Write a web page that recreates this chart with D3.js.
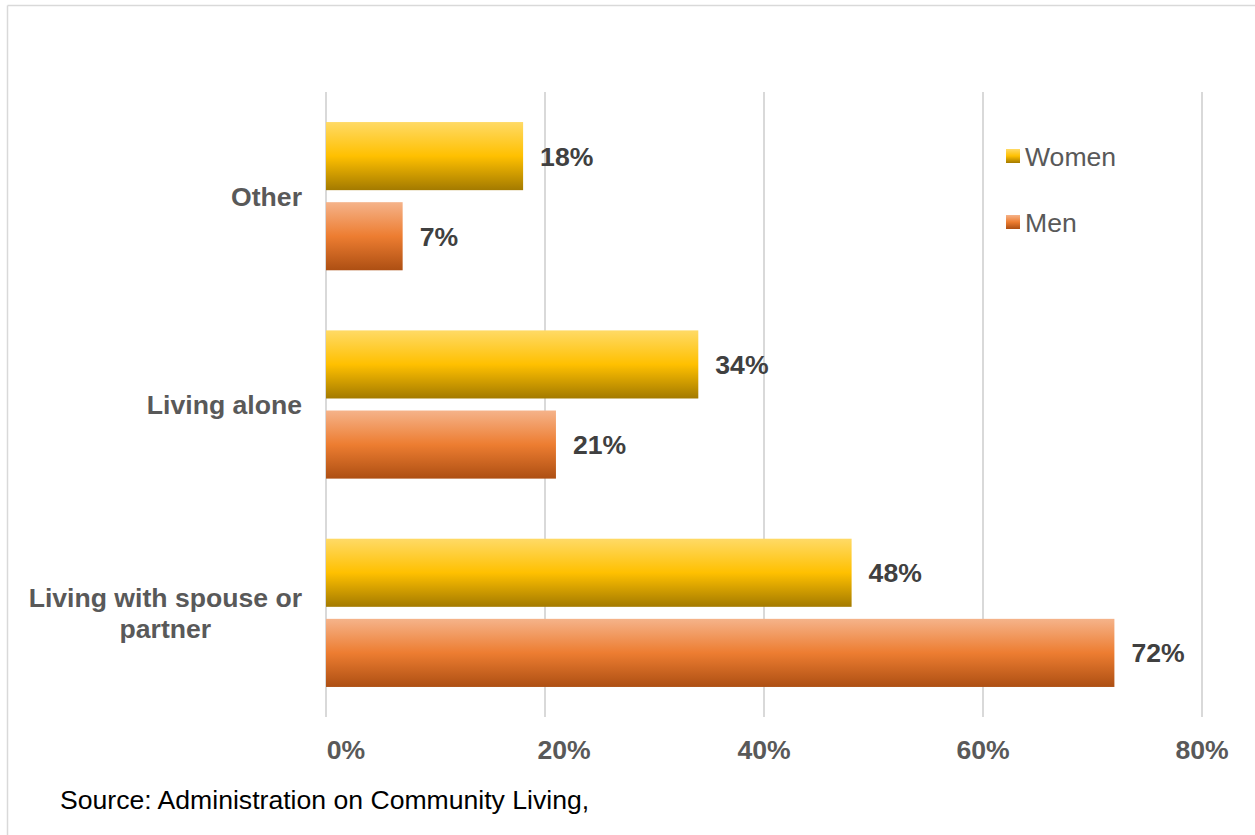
<!DOCTYPE html>
<html>
<head>
<meta charset="utf-8">
<script src="https://cdn.jsdelivr.net/npm/d3@7"></script>
<style>
  html, body { margin: 0; padding: 0; background: #fff; }
  svg { display: block; font-family: Arial, "Liberation Sans", sans-serif; }
</style>
</head>
<body>
<svg id="chart" width="1255" height="835"></svg>
<script>
const categories = ["Other", "Living alone", "Living with spouse or partner"];
const series = ["Women", "Men"];
const womenValues = [0.18, 0.34, 0.48];
const menValues = [0.07, 0.21, 0.72];
const xTicks = [0, 0.2, 0.4, 0.6, 0.8];
const sourceText = "Source: Administration on Community Living,";

const svg = d3.select("#chart");
const W = 1255, H = 835;
const FS = 26.6;

// frame (top and left edges visible)
svg.append("line").attr("x1", 7.5).attr("x2", W).attr("y1", 5.5).attr("y2", 5.5)
  .attr("stroke", "#d9d9d9").attr("stroke-width", 1.5);
svg.append("line").attr("x1", 7.5).attr("x2", 7.5).attr("y1", 5.5).attr("y2", H)
  .attr("stroke", "#d9d9d9").attr("stroke-width", 1.5);

const x = d3.scaleLinear().domain([0, 0.8]).range([326, 1202]);
const y = d3.scaleBand().domain(categories).range([92, 717]).paddingInner(0).paddingOuter(0);
const ySub = d3.scaleBand().domain(series).range([0, y.bandwidth()]).paddingInner(0.15).paddingOuter(0.375);

// gradients
const defs = svg.append("defs");
const gradSpecs = {
  Women: ["#ffda66", "#ffc000", "#a37a00"],
  Men: ["#f5b38a", "#ed7d31", "#ad4f13"]
};
series.forEach(s => {
  const g = defs.append("linearGradient").attr("id", "grad-" + s)
    .attr("x1", 0).attr("y1", 0).attr("x2", 0).attr("y2", 1);
  g.append("stop").attr("offset", "0%").attr("stop-color", gradSpecs[s][0]);
  g.append("stop").attr("offset", "50%").attr("stop-color", gradSpecs[s][1]);
  g.append("stop").attr("offset", "100%").attr("stop-color", gradSpecs[s][2]);
});

// gridlines
svg.append("g").selectAll("line").data(xTicks).join("line")
  .attr("x1", d => x(d)).attr("x2", d => x(d))
  .attr("y1", 92).attr("y2", 717)
  .attr("stroke", "#d9d9d9").attr("stroke-width", 2);

// x tick labels
svg.append("g").selectAll("text").data(xTicks).join("text")
  .attr("x", d => x(d) + (d === 0 ? 20 : d < 0.3 ? 19 : 0))
  .attr("y", 759)
  .attr("text-anchor", "middle")
  .attr("font-size", FS).attr("font-weight", "bold").attr("fill", "#595959")
  .text(d => d3.format(".0%")(d));

const data = [];
categories.forEach((c, i) => {
  data.push({ cat: c, s: "Women", v: womenValues[i] });
  data.push({ cat: c, s: "Men", v: menValues[i] });
});

// bars
svg.append("g").selectAll("rect").data(data).join("rect")
  .attr("x", x(0))
  .attr("y", d => y(d.cat) + ySub(d.s))
  .attr("width", d => x(d.v) - x(0))
  .attr("height", ySub.bandwidth())
  .attr("fill", d => `url(#grad-${d.s})`);

// value labels
svg.append("g").selectAll("text").data(data).join("text")
  .attr("x", d => x(d.v) + 17)
  .attr("y", d => y(d.cat) + ySub(d.s) + ySub.bandwidth() / 2)
  .attr("dy", "0.36em")
  .attr("font-size", FS).attr("font-weight", "bold").attr("fill", "#404040")
  .text(d => d3.format(".0%")(d.v));

// category labels (wrap long ones, block right-aligned, lines centered)
const catWrap = {
  "Other": ["Other"],
  "Living alone": ["Living alone"],
  "Living with spouse or partner": ["Living with spouse or", "partner"]
};
const labelRight = 302, lineH = 31;
categories.forEach(c => {
  const lines = catWrap[c];
  const cy = y(c) + y.bandwidth() / 2;
  const g = svg.append("g");
  const texts = lines.map((ln, i) => g.append("text")
    .attr("y", cy + (i - (lines.length - 1) / 2) * lineH)
    .attr("dy", "0.36em")
    .attr("text-anchor", "middle")
    .attr("font-size", FS).attr("font-weight", "bold").attr("fill", "#595959")
    .text(ln));
  const maxW = d3.max(texts, t => t.node().getComputedTextLength());
  texts.forEach(t => t.attr("x", labelRight - maxW / 2));
});

// legend
const legY = [156, 222];
series.forEach((s, i) => {
  svg.append("rect").attr("x", 1006).attr("y", legY[i] - 7).attr("width", 14).attr("height", 14)
    .attr("fill", `url(#grad-${s})`);
  svg.append("text").attr("x", 1025).attr("y", legY[i]).attr("dy", "0.36em")
    .attr("font-size", FS).attr("fill", "#595959").text(s);
});

// source
svg.append("text").attr("x", 60).attr("y", 809)
  .attr("font-size", FS).attr("fill", "#000").text(sourceText);
</script>
</body>
</html>
